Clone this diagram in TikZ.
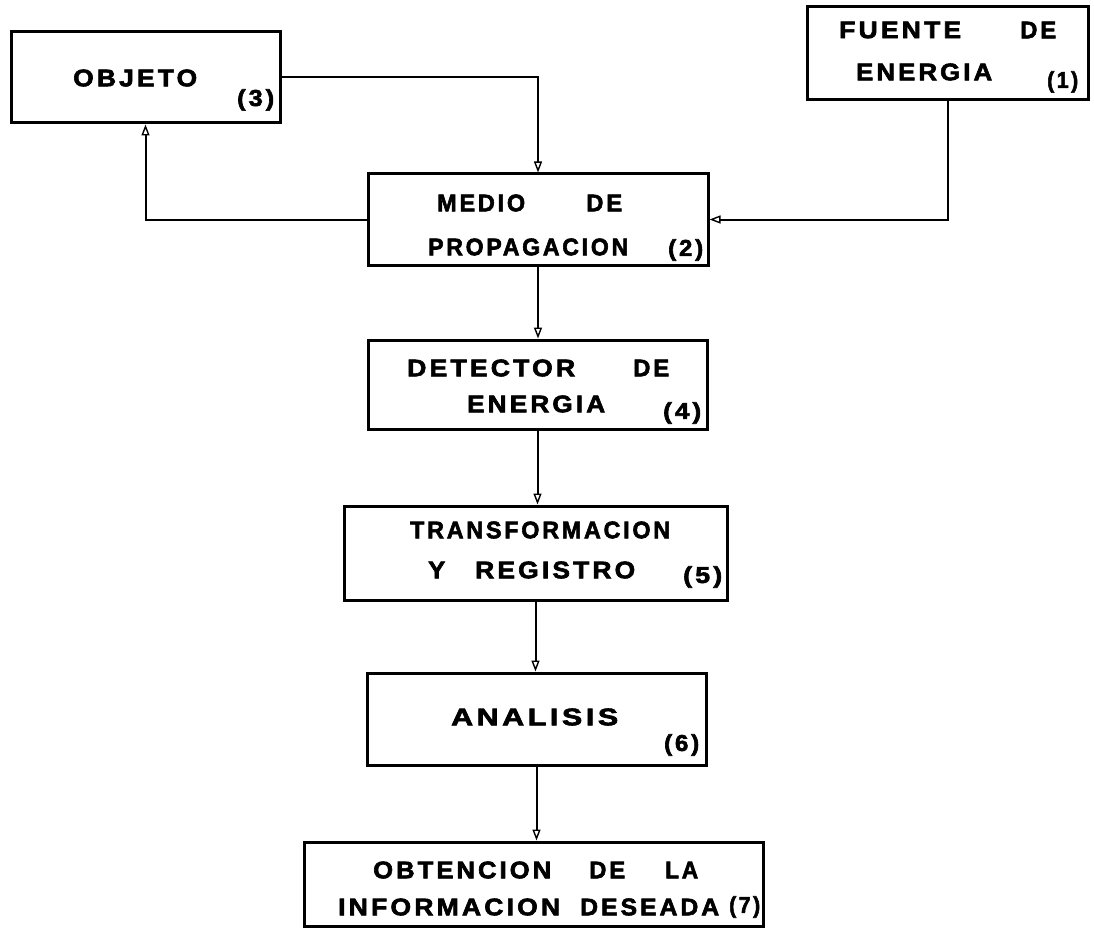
\documentclass[tikz,border=0pt]{standalone}
\usepackage{fontspec}
\usepackage{graphicx}
\usetikzlibrary{arrows.meta}
\newfontfamily\stencilfont[LetterSpace=12, FakeBold=2.5]{Liberation Sans}
\newcommand{\fw}[2]{\resizebox{#1pt}{\height}{\fontsize{24}{24}\stencilfont\bfseries #2}}
\newcommand{\fn}[2]{\resizebox{#1pt}{\height}{\fontsize{23}{23}\stencilfont\bfseries #2}}
\begin{document}
\begin{tikzpicture}[x=1pt,y=-1pt,
  blockbox/.style={draw, line width=3pt, inner sep=0pt},
  word/.style={inner sep=0pt, anchor=west},
  conn/.style={line width=2pt, -{Triangle[open,length=11pt,width=8pt,line width=1.4pt]}}]
\useasboundingbox (0,0) rectangle (1094,928);
% boxes
\node[blockbox, minimum width=269pt, minimum height=91pt] (objeto) at (145.5,77.5) {};
\node[blockbox, minimum width=281pt, minimum height=93pt] (fuente) at (947.5,53.5) {};
\node[blockbox, minimum width=340pt, minimum height=91pt] (medio) at (538,219.5) {};
\node[blockbox, minimum width=339pt, minimum height=89pt] (detector) at (537.5,384.5) {};
\node[blockbox, minimum width=383pt, minimum height=94pt] (transf) at (535.5,553) {};
\node[blockbox, minimum width=339pt, minimum height=92pt] (analisis) at (536.5,719) {};
\node[blockbox, minimum width=459pt, minimum height=84pt] (obten) at (533.5,884) {};
% texts
\node[word] (t3) at (73,78) {\fw{124}{OBJETO}};
\node[word] (n3) at (237,100) {\fn{37}{(3)}};
\node[word] (t1a) at (839,30) {\fw{122}{FUENTE}};
\node[word] (t1b) at (1020,30) {\fw{36}{DE}};
\node[word] (t1c) at (856,72) {\fw{136}{ENERGIA}};
\node[word] (n1) at (1047,82) {\fn{31}{(1)}};
\node[word] (t2a) at (437,203) {\fw{88}{MEDIO}};
\node[word] (t2b) at (586,203) {\fw{36}{DE}};
\node[word] (t2c) at (428,247) {\fw{200}{PROPAGACION}};
\node[word] (n2) at (668,250) {\fn{35}{(2)}};
\node[word] (t4a) at (407,368) {\fw{168}{DETECTOR}};
\node[word] (t4b) at (633,368) {\fw{36}{DE}};
\node[word] (t4c) at (467,404) {\fw{138}{ENERGIA}};
\node[word] (n4) at (663,413) {\fn{38}{(4)}};
\node[word] (t5a) at (410,530) {\fw{260}{TRANSFORMACION}};
\node[word] (t5b) at (428,570) {\fw{17}{Y}};
\node[word] (t5c) at (475,570) {\fw{160}{REGISTRO}};
\node[word] (n5) at (683,577) {\fn{39}{(5)}};
\node[word] (t6) at (451,717) {\fw{167}{ANALISIS}};
\node[word] (n6) at (664,745) {\fn{35}{(6)}};
\node[word] (t7a) at (373,870) {\fw{178}{OBTENCION}};
\node[word] (t7b) at (589,870) {\fw{36}{DE}};
\node[word] (t7c) at (665,870) {\fw{33}{LA}};
\node[word] (t7d) at (338,907) {\fw{222}{INFORMACION}};
\node[word] (t7e) at (580,907) {\fw{139}{DESEADA}};
\node[word] (n7) at (729,907) {\fn{31}{(7)}};
% connectors
\draw[conn] (objeto.east) -| (medio.north);
\draw[conn] (medio.west) -| (objeto.south);
\draw[conn] (fuente.south) |- (medio.east);
\draw[conn] (medio.south) -- (medio.south |- detector.north);
\draw[conn] (detector.south) -- (detector.south |- transf.north);
\draw[conn] (transf.south) -- (transf.south |- analisis.north);
\draw[conn] (analisis.south) -- (analisis.south |- obten.north);
\end{tikzpicture}
\end{document}
